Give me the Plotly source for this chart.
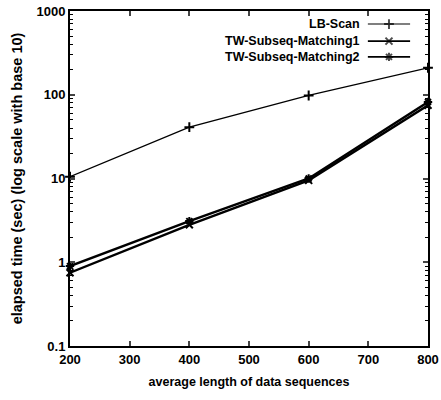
import plotly.graph_objects as go

lengths = [200, 400, 600, 800]
lb_scan = [10.5, 41, 98, 210]
tw_subseq1 = [0.75, 2.8, 9.5, 75]
tw_subseq2 = [0.9, 3.1, 10, 82]
series_names = ["LB-Scan", "TW-Subseq-Matching1", "TW-Subseq-Matching2"]
symbols = ["cross-thin-open", "x-thin-open", "asterisk-open"]
widths = [1.3, 2.4, 2.4]
x_ticks = [200, 300, 400, 500, 600, 700, 800]
y_ticks = [0.1, 1, 10, 100, 1000]
y_tick_labels = ["0.1", "1", "10", "100", "1000"]

FONT = "Liberation Sans"
BOLD = dict(family=FONT, color="black", weight="bold")
fig = go.Figure()
for name, ys, sym, w in zip(series_names, [lb_scan, tw_subseq1, tw_subseq2], symbols, widths):
    fig.add_trace(go.Scatter(
        x=lengths, y=ys, mode="lines+markers", name=name,
        line=dict(color="black", width=w),
        marker=dict(symbol=sym, size=7, color="black", line=dict(color="black", width=2)),
        showlegend=False, cliponaxis=False,
    ))

# legend samples (drawn on a hidden overlay axis)
leg_y = [0.961, 0.910, 0.863]
for i, (name, sym, w) in enumerate(zip(series_names, symbols, widths)):
    fig.add_trace(go.Scatter(
        x=[0.832, 0.891, 0.95], y=[leg_y[i]] * 3, mode="lines+markers",
        line=dict(color="black", width=w * 0.8),
        marker=dict(symbol=sym, size=[0, 7, 0], color="black", line=dict(color="black", width=2)),
        xaxis="x2", yaxis="y2", showlegend=False, hoverinfo="skip",
    ))
    fig.add_annotation(x=0.816, y=leg_y[i], xref="x2", yref="y2", text=name,
                       showarrow=False, xanchor="right", yanchor="middle",
                       font=dict(**BOLD, size=12.5))

fig.update_layout(
    width=441, height=400,
    margin=dict(l=70, r=13, t=11, b=54),
    paper_bgcolor="white", plot_bgcolor="white",
    font=dict(family=FONT, size=13, color="black"),
    xaxis=dict(range=[200, 800], tickvals=x_ticks, ticks="inside", ticklen=5,
               tickwidth=1.5, showline=True, linewidth=2, linecolor="black",
               mirror="ticks", showgrid=False, zeroline=False, automargin=False,
               title=dict(text="average length of data sequences", standoff=12,
                          font=dict(**BOLD, size=12.5)),
               tickfont=dict(**BOLD, size=13)),
    yaxis=dict(type="log", range=[-1, 3], tickvals=y_ticks, ticktext=y_tick_labels,
               ticks="inside", ticklen=5, tickwidth=1.5, showline=True, linewidth=2,
               linecolor="black", mirror="ticks", showgrid=False, zeroline=False,
               automargin=False,
               minor=dict(ticks="inside", dtick="D1", ticklen=3, tickwidth=1,
                          tickcolor="black", showgrid=False),
               title=dict(text="elapsed time (sec) (log scale with base 10)", standoff=10,
                          font=dict(**BOLD, size=14.5)),
               tickfont=dict(**BOLD, size=13)),
    xaxis2=dict(range=[0, 1], overlaying="x", visible=False),
    yaxis2=dict(range=[0, 1], overlaying="y", visible=False),
)
fig.write_html("out.html", config=dict(displayModeBar=False),
               post_script="document.body.style.margin='0';")
